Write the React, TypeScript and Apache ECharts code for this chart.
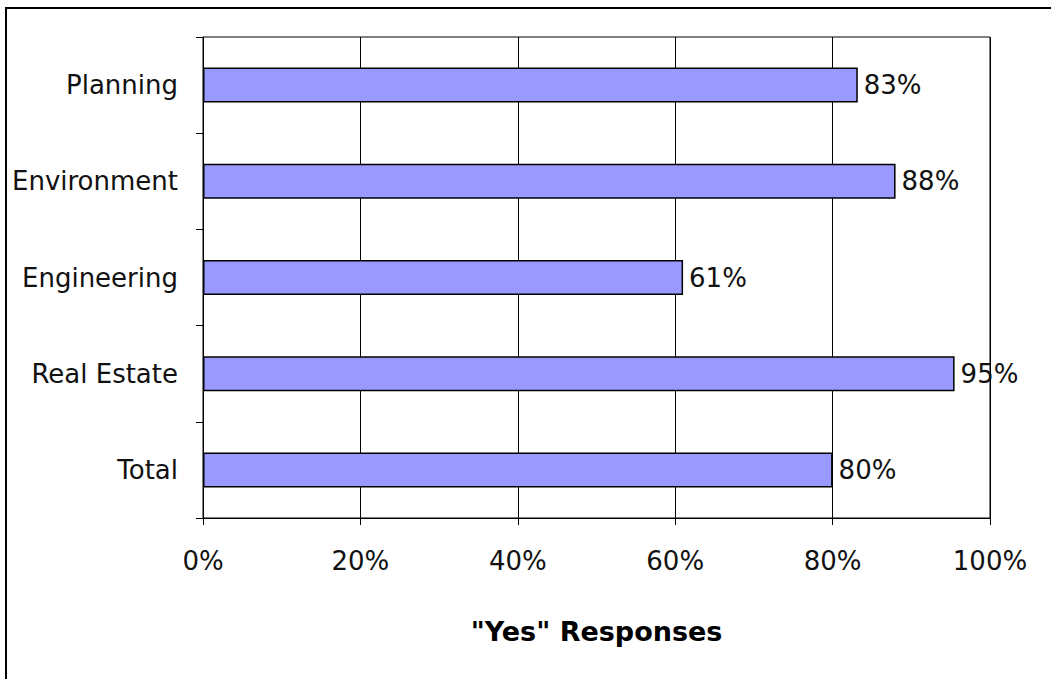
import React, { useEffect, useRef } from "react";
import * as echarts from "echarts";

const categories = ["Total", "Real Estate", "Engineering", "Environment", "Planning"];
const values = [80, 95.5, 61, 88, 83.2];
const xTicks = [0, 20, 40, 60, 80, 100];
const axisTitle = '"Yes" Responses';

export default function App() {
  const ref = useRef<HTMLDivElement>(null);
  useEffect(() => {
    document.body.style.margin = "0";
    const chart = echarts.init(ref.current!, null, { renderer: "svg" });
    const font = "DejaVu Sans";
    chart.setOption({
      animation: false,
      backgroundColor: "#fff",
      textStyle: { fontFamily: font },
      grid: {
        left: 203,
        right: 61,
        top: 37,
        bottom: 161,
        show: true,
        borderColor: "#000",
        borderWidth: 1,
        containLabel: false,
      },
      xAxis: {
        type: "value",
        min: xTicks[0],
        max: xTicks[xTicks.length - 1],
        interval: 20,
        axisLine: { show: true, lineStyle: { color: "#000", width: 1 } },
        axisTick: { show: true, length: 7, lineStyle: { color: "#000" } },
        splitLine: { show: true, lineStyle: { color: "#000", width: 1 } },
        axisLabel: {
          formatter: (v: number) => v + "%",
          color: "#111",
          fontSize: 26,
          fontFamily: font,
          margin: 30,
        },
        name: axisTitle,
        nameLocation: "middle",
        nameGap: 100,
        nameTextStyle: { color: "#000", fontSize: 27, fontWeight: "bold", fontFamily: font },
      },
      yAxis: {
        type: "category",
        data: categories,
        axisLine: { show: true, lineStyle: { color: "#000", width: 1 } },
        axisTick: { show: true, length: 7, lineStyle: { color: "#000" } },
        splitLine: { show: false },
        axisLabel: { color: "#111", fontSize: 26, fontFamily: font, margin: 25 },
      },
      series: [
        {
          type: "bar",
          data: values,
          barWidth: 35,
          itemStyle: { color: "#9999FF", borderColor: "#000", borderWidth: 1.5 },
          label: {
            show: true,
            position: "right",
            distance: 6,
            color: "#111",
            fontSize: 26,
            fontFamily: font,
            formatter: (p: any) => Math.floor(p.value) + "%",
          },
        },
      ],
      graphic: [
        {
          type: "rect",
          shape: { x: 6, y: 8, width: 1100, height: 720 },
          style: { fill: "none", stroke: "#000", lineWidth: 2 },
          silent: true,
        },
      ],
    });
    return () => chart.dispose();
  }, []);
  return <div ref={ref} style={{ position: "absolute", left: 0, top: 0, width: 1051, height: 679 }} />;
}
